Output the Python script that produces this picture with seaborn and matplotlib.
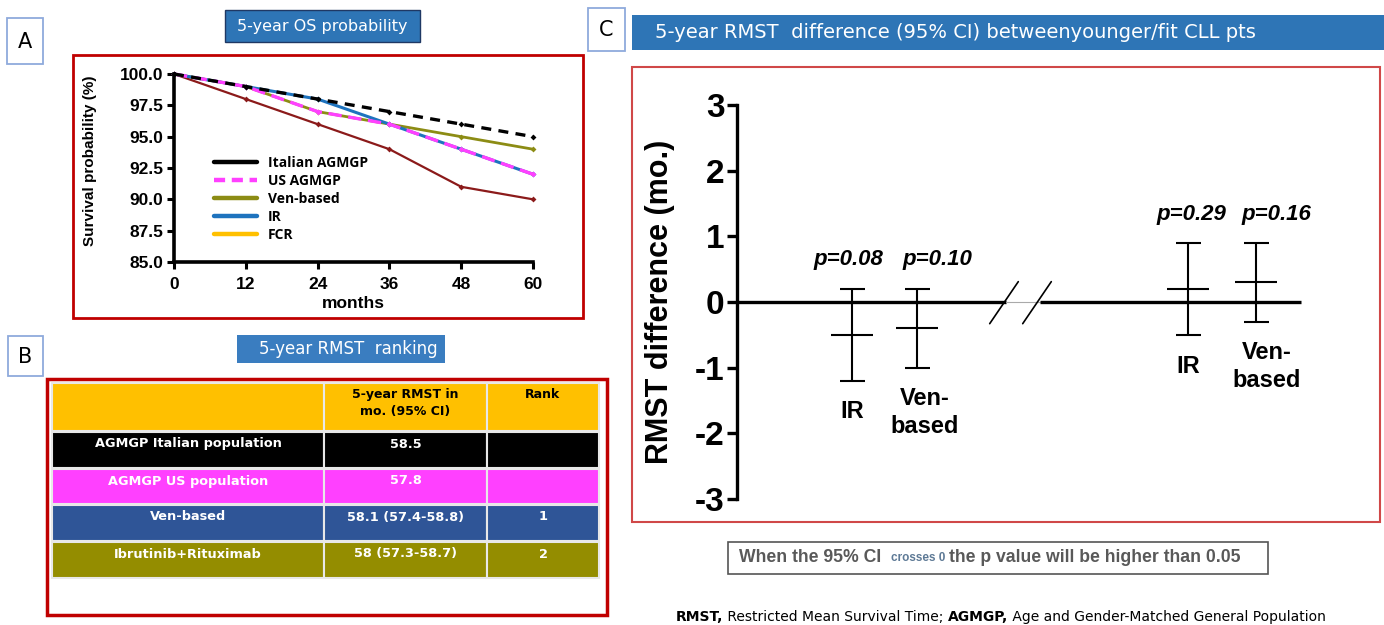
import numpy as np
import pandas as pd
import matplotlib
matplotlib.use("Agg")
import matplotlib.pyplot as plt
import seaborn as sns
from matplotlib.patches import Rectangle
from matplotlib.lines import Line2D

# ------------------------------------------------------------------ data
MONTHS = [0, 12, 24, 36, 48, 60]
OS_ITALIAN = [100, 99, 98, 97, 96, 95]
OS_US = [100, 99, 97, 96, 94, 92]
OS_VEN = [100, 99, 97, 96, 95, 94]
OS_IR = [100, 99, 98, 96, 94, 92]
OS_FCR = [100, 98, 96, 94, 91, 90]
LEGEND_LABELS = ["Italian AGMGP", "US AGMGP", "Ven-based", "IR", "FCR"]
X_TICKS_A = [0, 12, 24, 36, 48, 60]
Y_TICKS_A = [85.0, 87.5, 90.0, 92.5, 95.0, 97.5, 100.0]

TABLE_HEADER = ["", "5-year RMST in\nmo. (95% CI)", "Rank"]
TABLE_GROUPS = ["AGMGP Italian population", "AGMGP US population",
                "Ven-based", "Ibrutinib+Rituximab"]
TABLE_RMST = ["58.5", "57.8", "58.1 (57.4-58.8)", "58 (57.3-58.7)"]
TABLE_RANK = ["", "", "1", "2"]

C_LABELS = ["IR", "Ven-\nbased", "IR", "Ven-\nbased"]
C_MEAN = [-0.5, -0.4, 0.2, 0.3]
C_LOW = [-1.2, -1.0, -0.5, -0.3]
C_HIGH = [0.2, 0.2, 0.9, 0.9]
C_PVAL = ["p=0.08", "p=0.10", "p=0.29", "p=0.16"]
C_YTICKS = [-3, -2, -1, 0, 1, 2, 3]

# ------------------------------------------------------------------ style
sns.set_style("ticks")
plt.rcParams['font.family'] = ['Liberation Sans', 'DejaVu Sans']
for k in ["text.color", "axes.labelcolor", "xtick.color", "ytick.color",
          "axes.edgecolor"]:
    plt.rcParams[k] = "black"
UI = ['DejaVu Sans']

W, H = 1384, 625
fig = plt.figure(figsize=(W / 100, H / 100), dpi=100)
fig.patch.set_facecolor("white")
bg = fig.add_axes([0, 0, 1, 1], zorder=0)
bg.set_xlim(0, W)
bg.set_ylim(H, 0)
bg.axis("off")


def box(x0, y0, x1, y1, **kw):
    p = Rectangle((x0, y0), x1 - x0, y1 - y0, **kw)
    bg.add_patch(p)
    return p


def fig_rect(x0, y0, x1, y1):
    return [x0 / W, 1 - y1 / H, (x1 - x0) / W, (y1 - y0) / H]


BANNER = "#2E75B6"
RED = "#C00000"
LABEL_EDGE = "#8FAADC"

# panel letter boxes
for (x0, y0, x1, y1, s) in [(7, 18, 43, 64, "A"), (8, 336, 43, 376, "B"),
                            (588, 8, 625, 51, "C")]:
    box(x0, y0, x1, y1, facecolor="white", edgecolor=LABEL_EDGE, lw=1.3)
    bg.text((x0 + x1) / 2, (y0 + y1) / 2 + 1, s, ha="center", va="center",
            fontsize=15, family=UI)

# ------------------------------------------------------------------ panel A
box(225, 10, 420, 42, facecolor=BANNER, edgecolor="#1F3864", lw=1)
bg.text(322, 26, "5-year OS probability", color="white", ha="center",
        va="center", fontsize=11.5, family=UI)
box(73, 55, 583, 318, facecolor="none", edgecolor=RED, lw=2)

axA = fig.add_axes(fig_rect(174, 74, 533, 262), zorder=2)
axA.patch.set_alpha(0)

series = {"FCR": OS_FCR, "Ven-based": OS_VEN, "IR": OS_IR,
          "US AGMGP": OS_US, "Italian AGMGP": OS_ITALIAN}
styles = {
    "FCR": dict(color="#8B1A1A", lw=1.6, dashes=(None, None)),
    "Ven-based": dict(color="#8C8C14", lw=2.0, dashes=(None, None)),
    "IR": dict(color="#1E73BE", lw=2.2, dashes=(None, None)),
    "US AGMGP": dict(color="#FF40FF", lw=2.4, dashes=(4, 2)),
    "Italian AGMGP": dict(color="black", lw=2.4, dashes=(3, 2.2)),
}
dfA = pd.DataFrame([(m, v, g) for g, vals in series.items()
                    for m, v in zip(MONTHS, vals)],
                   columns=["months", "surv", "group"])
for g in series:
    st = styles[g]
    sub = dfA[dfA["group"] == g]
    sns.lineplot(data=sub, x="months", y="surv", ax=axA, color=st["color"],
                 lw=st["lw"], legend=False, marker="D", markersize=3,
                 markeredgewidth=0, clip_on=False)
    ln = axA.lines[-1]
    if st["dashes"][0] is not None:
        ln.set_dashes(st["dashes"])

axA.set_xlim(0, 60)
axA.set_ylim(85, 100)
axA.set_xticks(X_TICKS_A)
axA.set_yticks(Y_TICKS_A)
axA.set_yticklabels([f"{v:.1f}" for v in Y_TICKS_A])
sns.despine(ax=axA)
for s in ["left", "bottom"]:
    axA.spines[s].set_linewidth(2.6)
axA.tick_params(axis="both", width=2.2, length=5, labelsize=12.5)
axA.tick_params(axis="x", pad=6)
axA.tick_params(axis="y", pad=3)
for t in axA.get_xticklabels() + axA.get_yticklabels():
    t.set_fontweight("bold")
axA.set_xlabel("months", fontsize=12.5, fontweight="bold", labelpad=3)
axA.set_ylabel("Survival probability (%)", fontsize=11, fontweight="bold")
axA.yaxis.set_label_coords(-0.215, 0.54)

leg_colors = ["black", "#FF40FF", "#8C8C14", "#1E73BE", "#FFC000"]
leg_ls = ["-", (0, (2.5, 1.5)), "-", "-", "-"]
handles = [Line2D([0], [0], color=c, lw=3.2, ls=l)
           for c, l in zip(leg_colors, leg_ls)]
axA.legend(handles, LEGEND_LABELS, loc="upper left",
           bbox_to_anchor=(214 / W, 1 - 156 / H),
           bbox_transform=fig.transFigure, frameon=False,
           prop=dict(family="Open Sans", weight="bold", size=10),
           handlelength=3.1, handletextpad=0.8, labelspacing=0.28,
           borderpad=0, borderaxespad=0)

# ------------------------------------------------------------------ panel B
box(237, 335, 445, 363, facecolor="#3A7DC0", edgecolor="none")
bg.text(259, 349, "5-year RMST  ranking", color="white", ha="left",
        va="center", fontsize=12, family=UI)
box(47, 379, 607, 615, facecolor="none", edgecolor=RED, lw=2.5)

col_edges = [52, 324, 487, 599]
row_edges = [(383, 431), (432, 468), (469, 504), (505, 541), (542, 578)]
row_colors = ["#FFC000", "#000000", "#FF40FF", "#2F5597", "#948D00"]
table_rows = [TABLE_HEADER] + [[g, r, k] for g, r, k in
                               zip(TABLE_GROUPS, TABLE_RMST, TABLE_RANK)]
for ri, ((y0, y1), fc, row) in enumerate(zip(row_edges, row_colors, table_rows)):
    for ci in range(3):
        x0, x1 = col_edges[ci], col_edges[ci + 1]
        box(x0, y0, x1, y1, facecolor=fc, edgecolor="#E8E8E8", lw=1.5)
        txt = row[ci]
        if not txt:
            continue
        if ri == 0:
            bg.text((x0 + x1) / 2, y0 + 5, txt, ha="center", va="top",
                    fontsize=9, fontweight="bold", family=UI, color="black",
                    linespacing=1.35)
        else:
            bg.text((x0 + x1) / 2, y0 + 12, txt, ha="center", va="center",
                    fontsize=9.3, fontweight="bold", family=UI, color="white")

# ------------------------------------------------------------------ panel C
bannerC = box(632, 15, 1384, 50, facecolor=BANNER, edgecolor="none")
bg.text(655, 33, "5-year RMST  difference (95% CI) betweenyounger/fit CLL pts",
        color="white", ha="left", va="center", fontsize=14, family=UI)
t2 = bg.text(655, 59, "vs AGMGP", color="white", ha="left", va="center",
             fontsize=14, family=UI)
t2.set_clip_path(bannerC)
box(632, 67, 1380, 522, facecolor="none", edgecolor="#D04848", lw=1.5)

PX = 65.0
axC = fig.add_axes(fig_rect(737, 105, 1380, 499), zorder=2)
axC.patch.set_alpha(0)
axC.set_xlim(0, (1380 - 737) / PX)
axC.set_ylim(-3, 3)
C_POS = [(852 - 737) / PX, (917 - 737) / PX, (1188 - 737) / PX, (1256 - 737) / PX]

# zero reference line with axis break
b1, b2, xend = (1006 - 737) / PX, (1040 - 737) / PX, (1301 - 737) / PX
axC.plot([0, b1], [0, 0], color="black", lw=2.4, solid_capstyle="butt")
axC.plot([b1, b2], [0, 0], color="#AAAAAA", lw=0.8)
axC.plot([b2, xend], [0, 0], color="black", lw=2.4, solid_capstyle="butt")
for xc in [(1004 - 737) / PX, (1037 - 737) / PX]:
    axC.plot([xc - 0.22, xc + 0.22], [-0.33, 0.31], color="black", lw=1.2)

mean = np.array(C_MEAN)
yerr = [mean - np.array(C_LOW), np.array(C_HIGH) - mean]
axC.errorbar(C_POS, C_MEAN, yerr=yerr, fmt="none", ecolor="black",
             elinewidth=1.5, capsize=9, capthick=1.5)
sns.scatterplot(x=C_POS, y=C_MEAN, marker="_", s=30 ** 2, color="black",
                linewidth=1.5, ax=axC, legend=False, zorder=3)

p_dx = [-0.05, 0.32, 0.05, 0.32]
for i in range(4):
    axC.text(C_POS[i] + p_dx[i], C_HIGH[i] + 0.44, C_PVAL[i], ha="center",
             va="center", fontsize=16, fontweight="bold", fontstyle="italic")
lab_dx = [0, 0.12, 0, 0.17]
for i in range(4):
    axC.text(C_POS[i] + lab_dx[i], C_LOW[i] - 0.3, C_LABELS[i], ha="center",
             va="top", fontsize=17, fontweight="bold", linespacing=1.25)

axC.set_yticks(C_YTICKS)
axC.set_yticklabels([str(v) for v in C_YTICKS])
axC.set_xticks([])
for s in ["top", "right", "bottom"]:
    axC.spines[s].set_visible(False)
axC.spines["left"].set_linewidth(2.4)
axC.tick_params(axis="y", width=2.4, length=7, labelsize=24, pad=2)
for t in axC.get_yticklabels():
    t.set_fontweight("bold")
axC.set_ylabel("RMST difference (mo.)", fontsize=22, fontweight="bold")
axC.yaxis.set_label_coords((675 - 737) / (1380 - 737), 0.5)

# note box
box(728, 542, 1268, 574, facecolor="white", edgecolor="#555555", lw=1.2)
renderer = fig.canvas.get_renderer()


def text_run(x, y, pieces):
    for s, kw in pieces:
        t = bg.text(x, y, s, ha="left", va="center", **kw)
        x += t.get_window_extent(renderer).width


text_run(739, 558, [
    ("When the 95% CI  ", dict(fontsize=12.7, fontweight="bold", color="#595959")),
    ("crosses 0 ", dict(fontsize=8.5, fontweight="bold", color="#5E7A96")),
    ("the p value will be higher than 0.05",
     dict(fontsize=12.7, fontweight="bold", color="#595959")),
])

# footer
text_run(676, 617, [
    ("RMST,", dict(fontsize=10, fontweight="bold", family=UI, color="black")),
    (" Restricted Mean Survival Time; ", dict(fontsize=10, family=UI, color="black")),
    ("AGMGP,", dict(fontsize=10, fontweight="bold", family=UI, color="black")),
    (" Age and Gender-Matched General Population",
     dict(fontsize=10, family=UI, color="black")),
])

fig.savefig("out.png", dpi=100)
